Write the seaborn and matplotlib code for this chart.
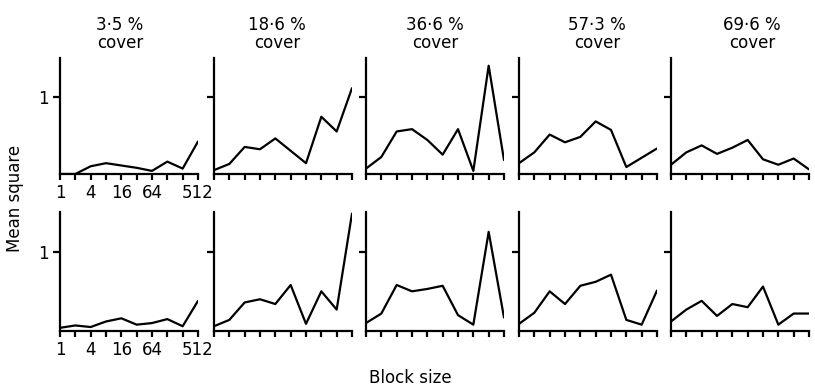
import numpy as np
import pandas as pd
import matplotlib
matplotlib.use("Agg")
import matplotlib.pyplot as plt
import seaborn as sns

# Block sizes (quadrats) used in the pattern analysis
block_size = [1, 2, 4, 8, 16, 32, 64, 128, 256, 512]
labelled_sizes = [1, 4, 16, 64, 512]

cover_labels = ["3·5 %", "18·6 %", "36·6 %", "57·3 %", "69·6 %"]

# Mean square per block size, first transect (top row)
ms_top_35 = [0.0, 0.0, 0.10, 0.14, 0.11, 0.08, 0.04, 0.16, 0.07, 0.42]
ms_top_186 = [0.05, 0.13, 0.35, 0.32, 0.46, 0.30, 0.14, 0.74, 0.55, 1.11]
ms_top_366 = [0.07, 0.22, 0.55, 0.58, 0.44, 0.25, 0.58, 0.04, 1.40, 0.18]
ms_top_573 = [0.14, 0.28, 0.51, 0.41, 0.48, 0.68, 0.57, 0.09, 0.21, 0.33]
ms_top_696 = [0.12, 0.28, 0.37, 0.26, 0.34, 0.44, 0.19, 0.12, 0.20, 0.06]

# Mean square per block size, second transect (bottom row)
ms_bot_35 = [0.04, 0.07, 0.05, 0.12, 0.16, 0.08, 0.10, 0.15, 0.06, 0.38]
ms_bot_186 = [0.06, 0.14, 0.36, 0.40, 0.34, 0.58, 0.09, 0.50, 0.27, 1.48]
ms_bot_366 = [0.10, 0.22, 0.58, 0.50, 0.53, 0.57, 0.20, 0.08, 1.25, 0.17]
ms_bot_573 = [0.09, 0.23, 0.50, 0.34, 0.57, 0.62, 0.71, 0.14, 0.08, 0.51]
ms_bot_696 = [0.12, 0.27, 0.38, 0.19, 0.34, 0.30, 0.56, 0.08, 0.22, 0.22]

rows = [
    [ms_top_35, ms_top_186, ms_top_366, ms_top_573, ms_top_696],
    [ms_bot_35, ms_bot_186, ms_bot_366, ms_bot_573, ms_bot_696],
]

records = []
for r, series_row in enumerate(rows):
    for c, vals in enumerate(series_row):
        for b, v in zip(block_size, vals):
            records.append({"row": r, "cover": cover_labels[c],
                            "block": b, "ms": v})
df = pd.DataFrame(records)

sns.set_theme(style="white")
plt.rcParams["font.family"] = ["DejaVu Sans"]
plt.rcParams["text.color"] = "black"
plt.rcParams["axes.labelcolor"] = "black"

W, H = 815, 392
fig = plt.figure(figsize=(W / 100, H / 100), dpi=100)

lefts = [60, 214, 366, 519, 671]
panel_w = 138
row_geom = [(174, 116), (331, 119)]  # (bottom pixel, height pixel)
title_x = [120, 277, 435, 597, 752]

for r in range(2):
    base, h = row_geom[r]
    for c in range(5):
        ax = fig.add_axes([lefts[c] / W, (H - base) / H, panel_w / W, h / H])
        sub = df[(df["row"] == r) & (df["cover"] == cover_labels[c])]
        sns.lineplot(data=sub, x="block", y="ms", ax=ax, color="black",
                     linewidth=1.6, estimator=None, legend=False)
        ax.set_xscale("log", base=2)
        ax.set_xlim(1, 512)
        ax.set_ylim(0, 1.5)
        ax.set_xlabel("")
        ax.set_ylabel("")
        for side in ("top", "right"):
            ax.spines[side].set_visible(False)
        for side in ("left", "bottom"):
            ax.spines[side].set_color("black")
            ax.spines[side].set_linewidth(1.6)
        ax.set_xticks(block_size)
        ax.xaxis.set_minor_locator(matplotlib.ticker.NullLocator())
        ax.set_yticks([1])
        if c == 0:
            ax.set_xticklabels([str(b) if b in labelled_sizes else ""
                                for b in block_size])
            ax.set_yticklabels(["1"])
        else:
            ax.set_xticklabels([])
            ax.set_yticklabels([])
        ax.tick_params(axis="both", direction="out", length=5, width=1.6,
                       color="black", labelsize=12, labelcolor="black",
                       bottom=True, left=True, pad=3)
        ax.tick_params(axis="x", length=4)
        ax.patch.set_alpha(0)

for c in range(5):
    fig.text(title_x[c] / W, 1 - 25 / H, cover_labels[c], ha="center",
             va="center", fontsize=12, color="black")
    fig.text(title_x[c] / W, 1 - 43 / H, "cover", ha="center",
             va="center", fontsize=12, color="black")

fig.text(15 / W, 1 - 198 / H, "Mean square", rotation=90, ha="center",
         va="center", fontsize=12, color="black")
fig.text(410 / W, 1 - 378 / H, "Block size", ha="center", va="center",
         fontsize=12, color="black")

fig.savefig("out.png", dpi=100, facecolor="white")
